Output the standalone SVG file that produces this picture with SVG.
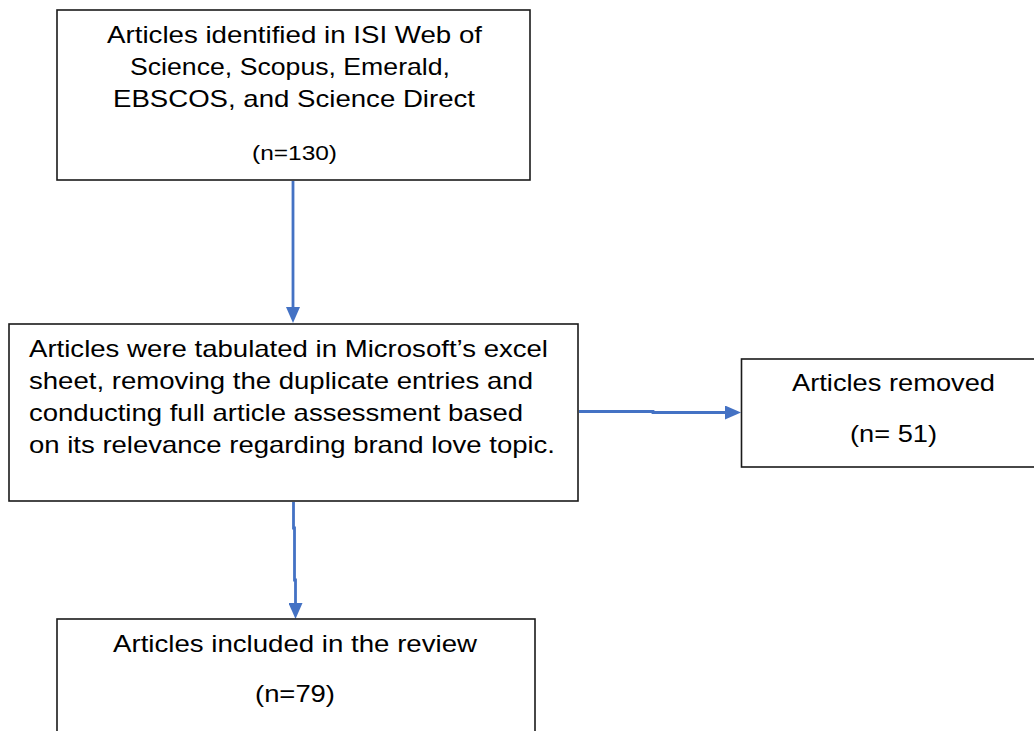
<svg xmlns="http://www.w3.org/2000/svg" width="1034" height="731" viewBox="0 0 1034 731">
  <style>
    .box { fill: #ffffff; stroke: #1a1a1a; stroke-width: 1.6; }
    .t { font-family: "Liberation Sans", Arial, sans-serif; font-size: 24px; fill: #000000; }
    .n { font-family: "Liberation Sans", Arial, sans-serif; font-size: 21px; fill: #000000; }
    .conn { fill: none; stroke: #4472C4; stroke-width: 2.8; }
  </style>
  <defs>
    <marker id="ah" viewBox="0 0 16 14" refX="0" refY="7" markerWidth="16" markerHeight="14" orient="auto" markerUnits="userSpaceOnUse">
      <path d="M0,0 L16,7 L0,14 Z" fill="#4472C4"/>
    </marker>
  </defs>
  <rect x="0" y="0" width="1034" height="731" fill="#ffffff"/>

  <g id="connectors">
    <path class="conn" d="M293 181 V307" marker-end="url(#ah)"/>
    <path class="conn" d="M579 411.5 H653 V412.5 H725" marker-end="url(#ah)"/>
    <path class="conn" d="M293.5 502 V528 H294.5 V580 H295.5 V603" marker-end="url(#ah)"/>
  </g>

  <g id="node-identified">
    <rect class="box" x="57" y="10" width="473" height="170" stroke-width="2"/>
    <text class="t" x="107" y="43" textLength="375" lengthAdjust="spacingAndGlyphs">Articles identified in ISI Web of</text>
    <text class="t" x="130" y="75" textLength="320" lengthAdjust="spacingAndGlyphs">Science, Scopus, Emerald,</text>
    <text class="t" x="113" y="107" textLength="362" lengthAdjust="spacingAndGlyphs">EBSCOS, and Science Direct</text>
    <text class="n" x="252" y="160" textLength="85" lengthAdjust="spacingAndGlyphs">(n=130)</text>
  </g>

  <g id="node-tabulated">
    <rect class="box" x="9" y="324" width="569" height="177"/>
    <text class="t" x="29" y="357" textLength="519" lengthAdjust="spacingAndGlyphs">Articles were tabulated in Microsoft’s excel</text>
    <text class="t" x="29" y="389" textLength="504" lengthAdjust="spacingAndGlyphs">sheet, removing the duplicate entries and</text>
    <text class="t" x="29" y="421" textLength="494" lengthAdjust="spacingAndGlyphs">conducting full article assessment based</text>
    <text class="t" x="29" y="453" textLength="526" lengthAdjust="spacingAndGlyphs">on its relevance regarding brand love topic.</text>
  </g>

  <g id="node-removed">
    <rect class="box" x="741.5" y="359" width="300" height="108"/>
    <text class="t" x="792" y="391" textLength="203" lengthAdjust="spacingAndGlyphs">Articles removed</text>
    <text class="t" x="850" y="442" textLength="87" lengthAdjust="spacingAndGlyphs">(n= 51)</text>
  </g>

  <g id="node-included">
    <rect class="box" x="57" y="619" width="478" height="130"/>
    <text class="t" x="113" y="652" textLength="364" lengthAdjust="spacingAndGlyphs">Articles included in the review</text>
    <text class="t" x="255" y="702" textLength="80" lengthAdjust="spacingAndGlyphs">(n=79)</text>
  </g>
</svg>
